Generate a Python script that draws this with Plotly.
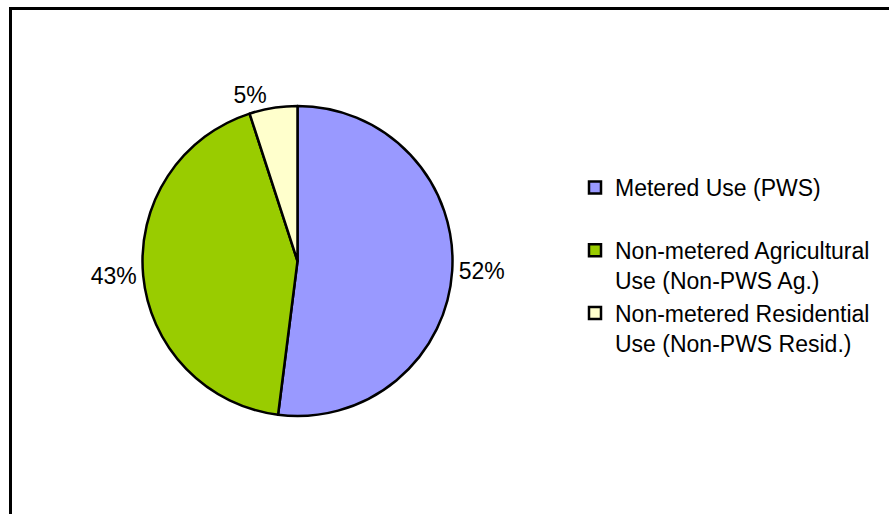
import plotly.graph_objects as go

# Data
labels = [
    "Metered Use (PWS)<br> ",
    "Non-metered Agricultural<br>Use (Non-PWS Ag.)",
    "Non-metered Residential<br>Use (Non-PWS Resid.)",
]
values = [52, 43, 5]
colors = ["#9999FF", "#99CC00", "#FFFFCC"]

W, H = 889, 514
cx, cy, r = 297.5, 261, 155

fig = go.Figure(
    go.Pie(
        labels=labels,
        values=values,
        sort=False,
        direction="clockwise",
        rotation=0,
        marker=dict(colors=colors, line=dict(color="black", width=2.5)),
        textinfo="percent",
        textposition="outside",
        texttemplate="%{percent:.0%}",
        textfont=dict(size=23, color="black"),
        domain=dict(
            x=[(cx - r) / W, (cx + r) / W],
            y=[(H - cy - r) / H, (H - cy + r) / H],
        ),
        hoverinfo="label+percent",
    )
)

fig.update_layout(
    width=W,
    height=H,
    margin=dict(l=0, r=0, t=0, b=0, autoexpand=False),
    paper_bgcolor="white",
    plot_bgcolor="white",
    font=dict(family="Liberation Sans, Arial, sans-serif", size=23, color="black"),
    showlegend=True,
    legend=dict(
        x=575 / W,
        xanchor="left",
        y=1 - 166 / H,
        yanchor="top",
        valign="top",
        font=dict(size=23, color="black"),
        bgcolor="rgba(0,0,0,0)",
        tracegroupgap=0,
    ),
    shapes=[
        dict(
            type="rect",
            xref="paper",
            yref="paper",
            x0=10.5 / W,
            x1=1.05,
            y0=-0.05,
            y1=1 - 8.5 / H,
            line=dict(color="black", width=3),
            fillcolor="rgba(0,0,0,0)",
            layer="above",
        )
    ],
)

fig.write_html("out.html")
